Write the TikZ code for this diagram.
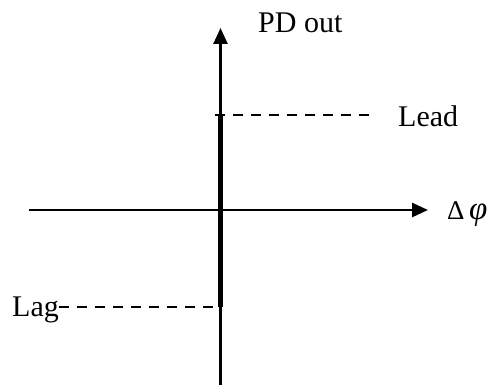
\documentclass[tikz,border=0pt]{standalone}
\usepackage{fontspec}
\setmainfont{Liberation Serif}
\usetikzlibrary{arrows.meta}
\begin{document}
\begin{tikzpicture}[x=1pt,y=-1pt,
  axis/.style={line width=2.6pt,-{Triangle[length=16pt,width=14pt]}},
  lbl/.style={font=\fontsize{30}{32}\selectfont,inner sep=0pt},
  dashline/.style={line width=2.4pt,dash pattern=on 10pt off 8pt}]
\useasboundingbox (0,0) rectangle (492,385);
\coordinate (vb) at (220.5,385);
\coordinate (vt) at (220.5,28);
\coordinate (hl) at (29,210);
\coordinate (hr) at (428,210);
\coordinate (lead0) at (215,115);
\coordinate (thickT) at (220.5,115);
\coordinate (lag0) at (220.5,307);
\coordinate (leadE) at (372,115);
\draw[axis] (vb) -- (vt);
\draw[axis] (hl) -- (hr);
\draw[line width=4.5pt] (thickT) -- (lag0);
\node[lbl,anchor=base west] (pd) at (258,33) {PD out};
\node[lbl,anchor=base west] (lead) at (398,127) {Lead};
\node[lbl,anchor=base west] (lag) at (12,316) {Lag};
\node[lbl,anchor=base west,font=\fontsize{27}{30}\selectfont] (dphi) at (447,219) {Δ\,{\fontsize{33}{34}\selectfont\textit{φ}}};
\draw[dashline] (lead0) -- (leadE);
\draw[dashline] (lag.east |- lag0) -- (lag0);
\end{tikzpicture}
\end{document}
